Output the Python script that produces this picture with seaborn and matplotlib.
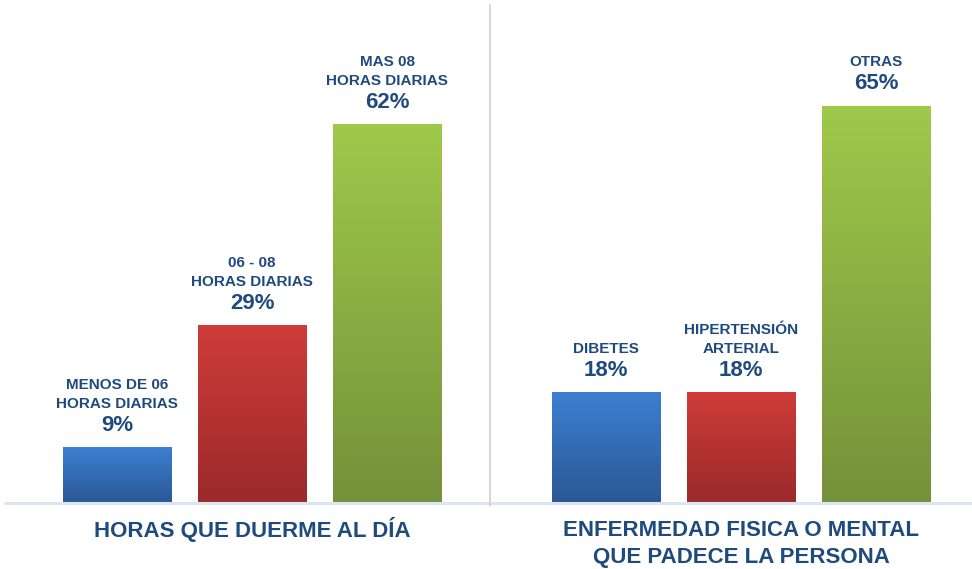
import matplotlib
matplotlib.use("Agg")
import matplotlib.pyplot as plt
import seaborn as sns
import numpy as np
import pandas as pd
from matplotlib.colors import LinearSegmentedColormap
from matplotlib.lines import Line2D

sns.set_theme(style="white")
plt.rcParams['font.family'] = ['Liberation Sans', 'DejaVu Sans']

# Data
sleep_labels = ["MENOS DE 06\nHORAS DIARIAS", "06 - 08\nHORAS DIARIAS", "MAS 08\nHORAS DIARIAS"]
sleep_values = [9, 29, 62]
illness_labels = ["DIBETES", "HIPERTENSIÓN\nARTERIAL", "OTRAS"]
illness_values = [18, 18, 65]
group_titles = ["HORAS QUE DUERME AL DÍA", "ENFERMEDAD FISICA O MENTAL\nQUE PADECE LA PERSONA"]

bar_grad = [("#3d7fd2", "#2b5895"), ("#cf3c39", "#9b2a2b"), ("#9fc94a", "#75913a")]
text_color = "#1f4a7e"

W, H = 972, 569
fig = plt.figure(figsize=(W / 100, H / 100), dpi=100)
base_y = 502
ax_bottom = 1 - base_y / H

# axes placement in pixels: left group 5..490, right 490..972
ax1 = fig.add_axes([5 / W, ax_bottom, 485 / W, 1 - ax_bottom])
ax2 = fig.add_axes([490 / W, ax_bottom, 482 / W, 1 - ax_bottom])

ylim = (0, base_y / 6.1)
setups = [
    (ax1, sleep_labels, sleep_values, group_titles[0], (-0.83, 2.76), -11),
    (ax2, illness_labels, illness_values, group_titles[1], (-0.86, 2.71), -13),
]

for ax, labels, values, title, xl, toff in setups:
    df = pd.DataFrame({"cat": labels, "val": values})
    sns.barplot(data=df, x="cat", y="val", hue="cat", palette=[g[0] for g in bar_grad],
                width=0.8, legend=False, ax=ax, edgecolor="none")
    for patch, (top, bot) in zip(ax.patches, bar_grad):
        x0, y0 = patch.get_x(), patch.get_y()
        w, h = patch.get_width(), patch.get_height()
        cmap = LinearSegmentedColormap.from_list("g", [bot, top])
        grad = np.linspace(0, 1, 256).reshape(-1, 1)
        im = ax.imshow(grad, extent=[x0, x0 + w, y0, y0 + h], origin="lower",
                       cmap=cmap, aspect="auto", zorder=patch.get_zorder() + 0.1)
        im.set_clip_path(patch)
    for i, (lab, v) in enumerate(zip(labels, values)):
        ax.annotate(f"{v}%", xy=(i, v), xytext=(0, 8), textcoords="offset points",
                    ha="center", va="bottom", fontsize=16, fontweight="bold", color=text_color)
        ax.annotate(lab, xy=(i, v), xytext=(0, 26), textcoords="offset points",
                    ha="center", va="bottom", fontsize=11, fontweight="bold", color=text_color,
                    linespacing=1.45)
    ax.annotate(title, xy=(1, 0), xycoords=("data", "axes fraction"), xytext=(0, toff),
                textcoords="offset points", ha="center", va="top", fontsize=16,
                fontweight="bold", color=text_color, linespacing=1.4)
    ax.set_xlim(*xl)
    ax.set_ylim(*ylim)
    ax.set_xticks([])
    ax.set_yticks([])
    ax.set_xlabel("")
    ax.set_ylabel("")
    for s in ax.spines.values():
        s.set_visible(False)
    ax.patch.set_alpha(0)

# baseline and separator
fig.add_artist(Line2D([5 / W, 1], [1 - 503 / H, 1 - 503 / H], color="#dbe5f1", lw=2.2))
fig.add_artist(Line2D([490 / W, 490 / W], [1 - 506 / H, 1 - 5 / H], color="#d0d0d0", lw=1.2))

fig.savefig("out.png", dpi=100, facecolor="white")
